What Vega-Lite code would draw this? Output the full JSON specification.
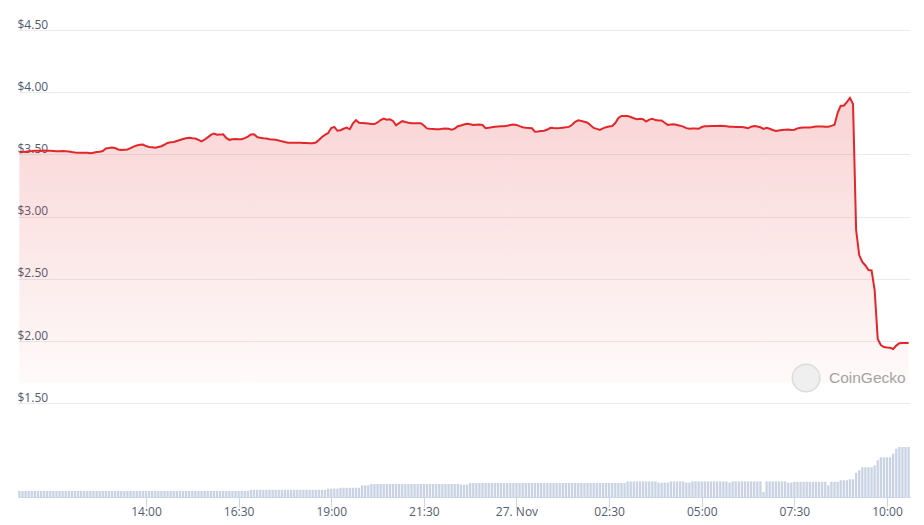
{
"$schema": "https://vega.github.io/schema/vega-lite/v6.json",
"width": 892, "height": 467,
"autosize": "none",
"padding": {"left": 18, "top": 30, "right": 14, "bottom": 28},
"background": "white",
"config": {"view": {"stroke": null}, "font": "Open Sans"},
"datasets": {"coin": [
{"t":"2022-11-26T10:35","p":3.518,"v":0.78},{"t":"2022-11-26T10:40","p":3.519,"v":0.78},{"t":"2022-11-26T10:45","p":3.522,"v":0.79},{"t":"2022-11-26T10:50","p":3.525,"v":0.78},{"t":"2022-11-26T10:55","p":3.527,"v":0.78},
{"t":"2022-11-26T11:00","p":3.530,"v":0.79},{"t":"2022-11-26T11:05","p":3.530,"v":0.78},{"t":"2022-11-26T11:10","p":3.528,"v":0.78},{"t":"2022-11-26T11:15","p":3.531,"v":0.79},{"t":"2022-11-26T11:20","p":3.530,"v":0.78},{"t":"2022-11-26T11:25","p":3.529,"v":0.78},{"t":"2022-11-26T11:30","p":3.527,"v":0.78},{"t":"2022-11-26T11:35","p":3.525,"v":0.79},{"t":"2022-11-26T11:40","p":3.526,"v":0.78},{"t":"2022-11-26T11:45","p":3.527,"v":0.78},{"t":"2022-11-26T11:50","p":3.526,"v":0.78},{"t":"2022-11-26T11:55","p":3.523,"v":0.79},
{"t":"2022-11-26T12:00","p":3.519,"v":0.78},{"t":"2022-11-26T12:05","p":3.516,"v":0.78},{"t":"2022-11-26T12:10","p":3.514,"v":0.78},{"t":"2022-11-26T12:15","p":3.513,"v":0.79},{"t":"2022-11-26T12:20","p":3.514,"v":0.78},{"t":"2022-11-26T12:25","p":3.514,"v":0.78},{"t":"2022-11-26T12:30","p":3.509,"v":0.78},{"t":"2022-11-26T12:35","p":3.514,"v":0.79},{"t":"2022-11-26T12:40","p":3.519,"v":0.78},{"t":"2022-11-26T12:45","p":3.521,"v":0.78},{"t":"2022-11-26T12:50","p":3.527,"v":0.78},{"t":"2022-11-26T12:55","p":3.547,"v":0.79},
{"t":"2022-11-26T13:00","p":3.551,"v":0.78},{"t":"2022-11-26T13:05","p":3.556,"v":0.78},{"t":"2022-11-26T13:10","p":3.551,"v":0.78},{"t":"2022-11-26T13:15","p":3.540,"v":0.79},{"t":"2022-11-26T13:20","p":3.536,"v":0.78},{"t":"2022-11-26T13:25","p":3.538,"v":0.78},{"t":"2022-11-26T13:30","p":3.540,"v":0.78},{"t":"2022-11-26T13:35","p":3.551,"v":0.79},{"t":"2022-11-26T13:40","p":3.563,"v":0.78},{"t":"2022-11-26T13:45","p":3.571,"v":0.78},{"t":"2022-11-26T13:50","p":3.577,"v":0.78},{"t":"2022-11-26T13:55","p":3.579,"v":0.79},
{"t":"2022-11-26T14:00","p":3.567,"v":0.78},{"t":"2022-11-26T14:05","p":3.560,"v":0.78},{"t":"2022-11-26T14:10","p":3.557,"v":0.78},{"t":"2022-11-26T14:15","p":3.554,"v":0.79},{"t":"2022-11-26T14:20","p":3.560,"v":0.78},{"t":"2022-11-26T14:25","p":3.566,"v":0.78},{"t":"2022-11-26T14:30","p":3.579,"v":0.78},{"t":"2022-11-26T14:35","p":3.592,"v":0.79},{"t":"2022-11-26T14:40","p":3.597,"v":0.78},{"t":"2022-11-26T14:45","p":3.600,"v":0.78},{"t":"2022-11-26T14:50","p":3.608,"v":0.78},{"t":"2022-11-26T14:55","p":3.616,"v":0.79},
{"t":"2022-11-26T15:00","p":3.624,"v":0.78},{"t":"2022-11-26T15:05","p":3.630,"v":0.78},{"t":"2022-11-26T15:10","p":3.634,"v":0.78},{"t":"2022-11-26T15:15","p":3.630,"v":0.79},{"t":"2022-11-26T15:20","p":3.628,"v":0.78},{"t":"2022-11-26T15:25","p":3.616,"v":0.78},{"t":"2022-11-26T15:30","p":3.604,"v":0.78},{"t":"2022-11-26T15:35","p":3.620,"v":0.79},{"t":"2022-11-26T15:40","p":3.637,"v":0.78},{"t":"2022-11-26T15:45","p":3.657,"v":0.78},{"t":"2022-11-26T15:50","p":3.667,"v":0.78},{"t":"2022-11-26T15:55","p":3.658,"v":0.79},
{"t":"2022-11-26T16:00","p":3.659,"v":0.78},{"t":"2022-11-26T16:05","p":3.662,"v":0.78},{"t":"2022-11-26T16:10","p":3.632,"v":0.78},{"t":"2022-11-26T16:15","p":3.617,"v":0.79},{"t":"2022-11-26T16:20","p":3.621,"v":0.78},{"t":"2022-11-26T16:25","p":3.624,"v":0.78},{"t":"2022-11-26T16:30","p":3.622,"v":0.78},{"t":"2022-11-26T16:35","p":3.622,"v":0.79},{"t":"2022-11-26T16:40","p":3.631,"v":0.78},{"t":"2022-11-26T16:45","p":3.643,"v":0.78},{"t":"2022-11-26T16:50","p":3.660,"v":0.92},{"t":"2022-11-26T16:55","p":3.662,"v":0.92},
{"t":"2022-11-26T17:00","p":3.640,"v":0.93},{"t":"2022-11-26T17:05","p":3.633,"v":0.92},{"t":"2022-11-26T17:10","p":3.630,"v":0.92},{"t":"2022-11-26T17:15","p":3.628,"v":0.92},{"t":"2022-11-26T17:20","p":3.622,"v":0.93},{"t":"2022-11-26T17:25","p":3.620,"v":0.92},{"t":"2022-11-26T17:30","p":3.617,"v":0.92},{"t":"2022-11-26T17:35","p":3.612,"v":0.92},{"t":"2022-11-26T17:40","p":3.605,"v":0.93},{"t":"2022-11-26T17:45","p":3.599,"v":0.92},{"t":"2022-11-26T17:50","p":3.594,"v":0.92},{"t":"2022-11-26T17:55","p":3.594,"v":0.92},
{"t":"2022-11-26T18:00","p":3.594,"v":0.93},{"t":"2022-11-26T18:05","p":3.593,"v":0.92},{"t":"2022-11-26T18:10","p":3.594,"v":0.92},{"t":"2022-11-26T18:15","p":3.592,"v":0.92},{"t":"2022-11-26T18:20","p":3.591,"v":0.93},{"t":"2022-11-26T18:25","p":3.590,"v":0.92},{"t":"2022-11-26T18:30","p":3.589,"v":0.92},{"t":"2022-11-26T18:35","p":3.595,"v":0.92},{"t":"2022-11-26T18:40","p":3.616,"v":0.93},{"t":"2022-11-26T18:45","p":3.640,"v":0.92},{"t":"2022-11-26T18:50","p":3.657,"v":0.92},{"t":"2022-11-26T18:55","p":3.672,"v":1.07},
{"t":"2022-11-26T19:00","p":3.712,"v":1.07},{"t":"2022-11-26T19:05","p":3.721,"v":1.10},{"t":"2022-11-26T19:10","p":3.690,"v":1.07},{"t":"2022-11-26T19:15","p":3.694,"v":1.19},{"t":"2022-11-26T19:20","p":3.706,"v":1.19},{"t":"2022-11-26T19:25","p":3.715,"v":1.17},{"t":"2022-11-26T19:30","p":3.702,"v":1.19},{"t":"2022-11-26T19:35","p":3.748,"v":1.19},{"t":"2022-11-26T19:40","p":3.776,"v":1.19},{"t":"2022-11-26T19:45","p":3.754,"v":1.19},{"t":"2022-11-26T19:50","p":3.752,"v":1.50},{"t":"2022-11-26T19:55","p":3.750,"v":1.50},
{"t":"2022-11-26T20:00","p":3.748,"v":1.52},{"t":"2022-11-26T20:05","p":3.744,"v":1.67},{"t":"2022-11-26T20:10","p":3.744,"v":1.67},{"t":"2022-11-26T20:15","p":3.757,"v":1.67},{"t":"2022-11-26T20:20","p":3.776,"v":1.67},{"t":"2022-11-26T20:25","p":3.788,"v":1.67},{"t":"2022-11-26T20:30","p":3.779,"v":1.67},{"t":"2022-11-26T20:35","p":3.782,"v":1.67},{"t":"2022-11-26T20:40","p":3.769,"v":1.67},{"t":"2022-11-26T20:45","p":3.734,"v":1.67},{"t":"2022-11-26T20:50","p":3.752,"v":1.67},{"t":"2022-11-26T20:55","p":3.767,"v":1.67},
{"t":"2022-11-26T21:00","p":3.760,"v":1.67},{"t":"2022-11-26T21:05","p":3.754,"v":1.67},{"t":"2022-11-26T21:10","p":3.750,"v":1.67},{"t":"2022-11-26T21:15","p":3.750,"v":1.67},{"t":"2022-11-26T21:20","p":3.751,"v":1.67},{"t":"2022-11-26T21:25","p":3.750,"v":1.67},{"t":"2022-11-26T21:30","p":3.732,"v":1.67},{"t":"2022-11-26T21:35","p":3.709,"v":1.67},{"t":"2022-11-26T21:40","p":3.706,"v":1.67},{"t":"2022-11-26T21:45","p":3.704,"v":1.67},{"t":"2022-11-26T21:50","p":3.702,"v":1.67},{"t":"2022-11-26T21:55","p":3.703,"v":1.67},
{"t":"2022-11-26T22:00","p":3.706,"v":1.67},{"t":"2022-11-26T22:05","p":3.709,"v":1.67},{"t":"2022-11-26T22:10","p":3.706,"v":1.67},{"t":"2022-11-26T22:15","p":3.699,"v":1.67},{"t":"2022-11-26T22:20","p":3.707,"v":1.67},{"t":"2022-11-26T22:25","p":3.727,"v":1.67},{"t":"2022-11-26T22:30","p":3.733,"v":1.60},{"t":"2022-11-26T22:35","p":3.740,"v":1.60},{"t":"2022-11-26T22:40","p":3.747,"v":1.60},{"t":"2022-11-26T22:45","p":3.743,"v":1.80},{"t":"2022-11-26T22:50","p":3.736,"v":1.80},{"t":"2022-11-26T22:55","p":3.738,"v":1.80},
{"t":"2022-11-26T23:00","p":3.740,"v":1.80},{"t":"2022-11-26T23:05","p":3.736,"v":1.80},{"t":"2022-11-26T23:10","p":3.711,"v":1.80},{"t":"2022-11-26T23:15","p":3.714,"v":1.80},{"t":"2022-11-26T23:20","p":3.718,"v":1.80},{"t":"2022-11-26T23:25","p":3.722,"v":1.80},{"t":"2022-11-26T23:30","p":3.724,"v":1.80},{"t":"2022-11-26T23:35","p":3.726,"v":1.80},{"t":"2022-11-26T23:40","p":3.727,"v":1.80},{"t":"2022-11-26T23:45","p":3.731,"v":1.80},{"t":"2022-11-26T23:50","p":3.736,"v":1.80},{"t":"2022-11-26T23:55","p":3.741,"v":1.80},
{"t":"2022-11-27T00:00","p":3.737,"v":1.80},{"t":"2022-11-27T00:05","p":3.727,"v":1.80},{"t":"2022-11-27T00:10","p":3.718,"v":1.80},{"t":"2022-11-27T00:15","p":3.715,"v":1.80},{"t":"2022-11-27T00:20","p":3.713,"v":1.80},{"t":"2022-11-27T00:25","p":3.710,"v":1.80},{"t":"2022-11-27T00:30","p":3.683,"v":1.80},{"t":"2022-11-27T00:35","p":3.685,"v":1.80},{"t":"2022-11-27T00:40","p":3.688,"v":1.80},{"t":"2022-11-27T00:45","p":3.690,"v":1.80},{"t":"2022-11-27T00:50","p":3.700,"v":1.80},{"t":"2022-11-27T00:55","p":3.714,"v":1.80},
{"t":"2022-11-27T01:00","p":3.712,"v":1.80},{"t":"2022-11-27T01:05","p":3.711,"v":1.80},{"t":"2022-11-27T01:10","p":3.712,"v":1.80},{"t":"2022-11-27T01:15","p":3.715,"v":1.80},{"t":"2022-11-27T01:20","p":3.718,"v":1.80},{"t":"2022-11-27T01:25","p":3.721,"v":1.80},{"t":"2022-11-27T01:30","p":3.738,"v":1.80},{"t":"2022-11-27T01:35","p":3.762,"v":1.80},{"t":"2022-11-27T01:40","p":3.774,"v":1.80},{"t":"2022-11-27T01:45","p":3.768,"v":1.80},{"t":"2022-11-27T01:50","p":3.762,"v":1.80},{"t":"2022-11-27T01:55","p":3.755,"v":1.80},
{"t":"2022-11-27T02:00","p":3.734,"v":1.80},{"t":"2022-11-27T02:05","p":3.713,"v":1.80},{"t":"2022-11-27T02:10","p":3.705,"v":1.80},{"t":"2022-11-27T02:15","p":3.697,"v":1.80},{"t":"2022-11-27T02:20","p":3.709,"v":1.80},{"t":"2022-11-27T02:25","p":3.719,"v":1.80},{"t":"2022-11-27T02:30","p":3.724,"v":1.80},{"t":"2022-11-27T02:35","p":3.728,"v":1.80},{"t":"2022-11-27T02:40","p":3.752,"v":1.80},{"t":"2022-11-27T02:45","p":3.793,"v":1.80},{"t":"2022-11-27T02:50","p":3.809,"v":1.80},{"t":"2022-11-27T02:55","p":3.809,"v":1.80},
{"t":"2022-11-27T03:00","p":3.809,"v":2.00},{"t":"2022-11-27T03:05","p":3.801,"v":2.00},{"t":"2022-11-27T03:10","p":3.791,"v":2.00},{"t":"2022-11-27T03:15","p":3.782,"v":2.00},{"t":"2022-11-27T03:20","p":3.787,"v":2.00},{"t":"2022-11-27T03:25","p":3.783,"v":2.00},{"t":"2022-11-27T03:30","p":3.764,"v":2.00},{"t":"2022-11-27T03:35","p":3.780,"v":2.00},{"t":"2022-11-27T03:40","p":3.787,"v":2.00},{"t":"2022-11-27T03:45","p":3.776,"v":2.00},{"t":"2022-11-27T03:50","p":3.772,"v":1.84},{"t":"2022-11-27T03:55","p":3.772,"v":1.84},
{"t":"2022-11-27T04:00","p":3.754,"v":1.84},{"t":"2022-11-27T04:05","p":3.737,"v":1.85},{"t":"2022-11-27T04:10","p":3.741,"v":2.00},{"t":"2022-11-27T04:15","p":3.743,"v":2.00},{"t":"2022-11-27T04:20","p":3.737,"v":2.00},{"t":"2022-11-27T04:25","p":3.731,"v":2.00},{"t":"2022-11-27T04:30","p":3.723,"v":2.00},{"t":"2022-11-27T04:35","p":3.711,"v":1.85},{"t":"2022-11-27T04:40","p":3.706,"v":1.85},{"t":"2022-11-27T04:45","p":3.708,"v":2.00},{"t":"2022-11-27T04:50","p":3.709,"v":2.00},{"t":"2022-11-27T04:55","p":3.706,"v":2.00},
{"t":"2022-11-27T05:00","p":3.720,"v":2.00},{"t":"2022-11-27T05:05","p":3.726,"v":2.00},{"t":"2022-11-27T05:10","p":3.727,"v":2.00},{"t":"2022-11-27T05:15","p":3.728,"v":2.00},{"t":"2022-11-27T05:20","p":3.729,"v":2.00},{"t":"2022-11-27T05:25","p":3.729,"v":2.00},{"t":"2022-11-27T05:30","p":3.730,"v":2.00},{"t":"2022-11-27T05:35","p":3.728,"v":2.00},{"t":"2022-11-27T05:40","p":3.726,"v":2.00},{"t":"2022-11-27T05:45","p":3.723,"v":1.85},{"t":"2022-11-27T05:50","p":3.722,"v":2.00},{"t":"2022-11-27T05:55","p":3.721,"v":2.00},
{"t":"2022-11-27T06:00","p":3.721,"v":2.00},{"t":"2022-11-27T06:05","p":3.720,"v":2.00},{"t":"2022-11-27T06:10","p":3.716,"v":2.00},{"t":"2022-11-27T06:15","p":3.710,"v":2.00},{"t":"2022-11-27T06:20","p":3.723,"v":2.00},{"t":"2022-11-27T06:25","p":3.729,"v":2.00},{"t":"2022-11-27T06:30","p":3.724,"v":2.00},{"t":"2022-11-27T06:35","p":3.718,"v":2.00},{"t":"2022-11-27T06:40","p":3.705,"v":0.64},{"t":"2022-11-27T06:45","p":3.713,"v":2.00},{"t":"2022-11-27T06:50","p":3.706,"v":2.00},{"t":"2022-11-27T06:55","p":3.696,"v":2.00},
{"t":"2022-11-27T07:00","p":3.688,"v":2.00},{"t":"2022-11-27T07:05","p":3.692,"v":2.00},{"t":"2022-11-27T07:10","p":3.696,"v":2.00},{"t":"2022-11-27T07:15","p":3.699,"v":2.00},{"t":"2022-11-27T07:20","p":3.700,"v":1.85},{"t":"2022-11-27T07:25","p":3.697,"v":1.85},{"t":"2022-11-27T07:30","p":3.699,"v":1.95},{"t":"2022-11-27T07:35","p":3.709,"v":1.95},{"t":"2022-11-27T07:40","p":3.715,"v":1.95},{"t":"2022-11-27T07:45","p":3.716,"v":1.95},{"t":"2022-11-27T07:50","p":3.717,"v":1.95},{"t":"2022-11-27T07:55","p":3.717,"v":1.95},
{"t":"2022-11-27T08:00","p":3.720,"v":1.95},{"t":"2022-11-27T08:05","p":3.724,"v":1.95},{"t":"2022-11-27T08:10","p":3.725,"v":1.95},{"t":"2022-11-27T08:15","p":3.724,"v":1.95},{"t":"2022-11-27T08:20","p":3.723,"v":1.95},{"t":"2022-11-27T08:25","p":3.722,"v":1.50},{"t":"2022-11-27T08:30","p":3.729,"v":1.95},{"t":"2022-11-27T08:35","p":3.739,"v":1.95},{"t":"2022-11-27T08:40","p":3.833,"v":1.95},{"t":"2022-11-27T08:45","p":3.891,"v":2.15},{"t":"2022-11-27T08:50","p":3.891,"v":2.15},{"t":"2022-11-27T08:55","p":3.921,"v":2.15},
{"t":"2022-11-27T09:00","p":3.955,"v":2.27},{"t":"2022-11-27T09:05","p":3.905,"v":2.27},{"t":"2022-11-27T09:10","p":2.892,"v":3.12},{"t":"2022-11-27T09:15","p":2.691,"v":3.43},{"t":"2022-11-27T09:20","p":2.635,"v":3.82},{"t":"2022-11-27T09:25","p":2.607,"v":3.82},{"t":"2022-11-27T09:30","p":2.571,"v":3.82},{"t":"2022-11-27T09:35","p":2.567,"v":3.82},{"t":"2022-11-27T09:40","p":2.410,"v":4.07},{"t":"2022-11-27T09:45","p":2.016,"v":4.72},{"t":"2022-11-27T09:50","p":1.968,"v":5.10},{"t":"2022-11-27T09:55","p":1.952,"v":5.10},
{"t":"2022-11-27T10:00","p":1.948,"v":5.10},{"t":"2022-11-27T10:05","p":1.946,"v":5.10},{"t":"2022-11-27T10:10","p":1.936,"v":5.56},{"t":"2022-11-27T10:15","p":1.963,"v":6.21},{"t":"2022-11-27T10:20","p":1.982,"v":6.42},{"t":"2022-11-27T10:25","p":1.983,"v":6.42},{"t":"2022-11-27T10:30","p":1.983,"v":6.42},{"t":"2022-11-27T10:35","p":1.984,"v":6.42}
]},
"data": {"name": "coin"},
"resolve": {"scale": {"y": "independent"}},
"layer": [
  {
    "mark": {"type": "bar", "width": 2.3, "color": "#c9d3e3"},
    "encoding": {
      "x": {"field": "t", "type": "temporal",
        "scale": {"padding": 0, "domain": [{"year": 2022, "month": "nov", "date": 26, "hours": 10, "minutes": 32, "seconds": 45}, {"year": 2022, "month": "nov", "date": 27, "hours": 10, "minutes": 37, "seconds": 15}]},
        "axis": {
          "title": null, "grid": false,
          "values": [
            {"year": 2022, "month": "nov", "date": 26, "hours": 14, "minutes": 0},
            {"year": 2022, "month": "nov", "date": 26, "hours": 16, "minutes": 30},
            {"year": 2022, "month": "nov", "date": 26, "hours": 19, "minutes": 0},
            {"year": 2022, "month": "nov", "date": 26, "hours": 21, "minutes": 30},
            {"year": 2022, "month": "nov", "date": 27, "hours": 0, "minutes": 0},
            {"year": 2022, "month": "nov", "date": 27, "hours": 2, "minutes": 30},
            {"year": 2022, "month": "nov", "date": 27, "hours": 5, "minutes": 0},
            {"year": 2022, "month": "nov", "date": 27, "hours": 7, "minutes": 30},
            {"year": 2022, "month": "nov", "date": 27, "hours": 10, "minutes": 0}
          ],
          "labelExpr": "hours(datum.value) == 0 && minutes(datum.value) == 0 ? timeFormat(datum.value, '%d. %b') : timeFormat(datum.value, '%H:%M')",
          "domainColor": "#ccd6eb", "tickColor": "#ccd6eb", "tickSize": 10,
          "labelPadding": -1, "labelFont": "Open Sans", "labelFontSize": 12, "labelColor": "#535d70",
          "labelFlush": false, "labelOverlap": false
        }
      },
      "y": {"field": "v", "type": "quantitative", "scale": {"domain": [0, 60], "nice": false}, "axis": null}
    }
  },
  {
    "layer": [
      {
        "mark": {"type": "area", "line": false,
          "fill": {"gradient": "linear", "x1": 0, "y1": 0, "x2": 0, "y2": 1,
            "stops": [{"offset": 0, "color": "rgba(227,38,42,0.2)"}, {"offset": 1, "color": "rgba(227,38,42,0.025)"}]}},
        "encoding": {
          "x": {"field": "t", "type": "temporal"},
          "y": {"field": "p", "type": "quantitative",
            "scale": {"domain": [0.746, 4.5], "nice": false, "zero": false},
            "axis": {
              "orient": "left", "title": null,
              "values": [1.5, 2, 2.5, 3, 3.5, 4, 4.5],
              "labelExpr": "'$' + format(datum.value, '.2f')",
              "domain": false, "ticks": false, "tickSize": 0,
              "labelAlign": "left", "labelBaseline": "alphabetic", "labelPadding": 1, "labelOffset": -2,
              "labelFont": "Open Sans", "labelFontSize": 12, "labelColor": "#4f5b70",
              "labelFlush": false, "labelOverlap": false, "labelBound": false,
              "grid": true, "gridColor": "#ebebeb", "gridWidth": 1
            }
          },
          "y2": {"datum": 1.66}
        }
      },
      {
        "mark": {"type": "line", "color": "#e3262a", "strokeWidth": 2},
        "encoding": {
          "x": {"field": "t", "type": "temporal"},
          "y": {"field": "p", "type": "quantitative"}
        }
      },
      {
        "data": {"values": [{}]},
        "mark": {"type": "circle", "size": 760, "fill": "#efefef", "stroke": "#dcdcdc", "strokeWidth": 1.5, "opacity": 1},
        "encoding": {
          "x": {"datum": {"year": 2022, "month": "nov", "date": 27, "hours": 7, "minutes": 49}, "type": "temporal"},
          "y": {"datum": 1.703, "type": "quantitative"}
        }
      },
      {
        "data": {"values": [{}]},
        "mark": {"type": "text", "text": "CoinGecko", "align": "left", "baseline": "middle", "font": "Liberation Sans", "fontSize": 15.5, "color": "#a3a3a3"},
        "encoding": {
          "x": {"datum": {"year": 2022, "month": "nov", "date": 27, "hours": 8, "minutes": 26}, "type": "temporal"},
          "y": {"datum": 1.703, "type": "quantitative"}
        }
      }
    ]
  }
]
}
